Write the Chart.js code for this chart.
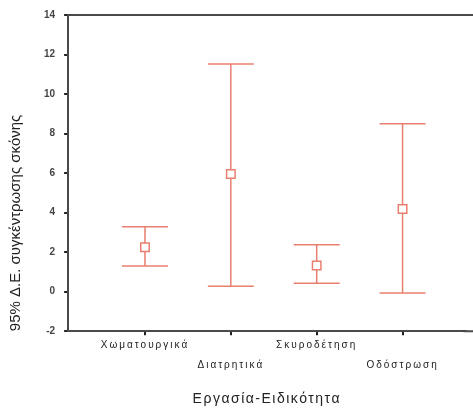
<!DOCTYPE html>
<html>
<head>
<meta charset="utf-8">
<script src="https://cdn.jsdelivr.net/npm/chart.js@4.4.1/dist/chart.umd.min.js"></script>
<style>
  html, body { margin: 0; padding: 0; background: #fff; }
  #wrap { width: 473px; height: 411px; }
</style>
</head>
<body>
<div id="wrap"><canvas id="graph"></canvas></div>
<script>
// values
const categories = ["Χωματουργικά", "Διατρητικά", "Σκυροδέτηση", "Οδόστρωση"];
const means = [2.25, 5.95, 1.33, 4.18];
const lower = [1.3, 0.27, 0.42, -0.07];
const upper = [3.28, 11.52, 2.38, 8.5];
const yTicks = [-2, 0, 2, 4, 6, 8, 10, 12, 14];

const red = "#e9806f";
const axisColor = "#4a4a4a";

// draws the CI whiskers + top frame line
const errorBars = {
  id: "errorBars",
  afterDatasetsDraw(chart) {
    const { ctx, scales: { x, y }, chartArea } = chart;
    ctx.save();
    ctx.strokeStyle = red;
    ctx.lineWidth = 1.5;
    const half = 23;
    categories.forEach((c, i) => {
      const px = x.getPixelForValue(i + 1);
      const top = y.getPixelForValue(upper[i]);
      const bot = y.getPixelForValue(lower[i]);
      const m = y.getPixelForValue(means[i]);
      ctx.beginPath();
      ctx.moveTo(px, top); ctx.lineTo(px, m - 4);
      ctx.moveTo(px, m + 4); ctx.lineTo(px, bot);
      ctx.moveTo(px - half, top); ctx.lineTo(px + half, top);
      ctx.moveTo(px - half, bot); ctx.lineTo(px + half, bot);
      ctx.stroke();
    });
    // frame: top line and x axis run to the canvas edge
    ctx.strokeStyle = axisColor;
    ctx.lineWidth = 2;
    ctx.beginPath();
    ctx.moveTo(chartArea.left, chartArea.top);
    ctx.lineTo(chart.width, chartArea.top);
    ctx.moveTo(chartArea.right - 2, chartArea.bottom);
    ctx.lineTo(chart.width, chartArea.bottom);
    ctx.stroke();
    ctx.restore();
  }
};

// wide letter spacing on the x axis text
const spacedX = {
  id: "spacedX",
  afterUpdate(chart) {
    const s = chart.scales.x;
    if (s._spaced) return;
    const wrap = (name, sp) => {
      const orig = s[name].bind(s);
      s[name] = function (a) {
        const prev = this.ctx.letterSpacing;
        this.ctx.letterSpacing = sp;
        orig(a);
        this.ctx.letterSpacing = prev;
      };
    };
    wrap("drawLabels", "2px");
    wrap("drawTitle", "1.5px");
    s._spaced = true;
  }
};

new Chart(document.getElementById("graph"), {
  type: "scatter",
  data: {
    datasets: [{
      data: means.map((m, i) => ({ x: i + 1, y: m })),
      pointStyle: "rect",
      pointRadius: 6,
      pointHoverRadius: 6,
      pointBackgroundColor: "#fff",
      pointBorderColor: red,
      pointBorderWidth: 1.5
    }]
  },
  options: {
    responsive: true,
    maintainAspectRatio: false,
    animation: false,
    layout: { padding: { top: 15, right: 0, bottom: 3, left: 7 } },
    plugins: { legend: { display: false }, tooltip: { enabled: false } },
    scales: {
      x: {
        type: "linear",
        min: 0.105,
        max: 4.733,
        afterBuildTicks: s => { s.ticks = categories.map((c, i) => ({ value: i + 1 })); },
        grid: { drawOnChartArea: false, tickLength: 4, color: "#222", lineWidth: 2 },
        border: { color: axisColor, width: 2 },
        ticks: {
          autoSkip: false,
          maxRotation: 0,
          padding: 0,
          color: "#222",
          font: { family: "Arial, 'Liberation Sans'", size: 10, lineHeight: 2 },
          callback: (v, i) => i % 2 === 0 ? categories[v - 1] : ["", categories[v - 1]]
        },
        title: {
          display: true,
          text: "Εργασία-Ειδικότητα",
          color: "#222",
          font: { family: "Arial, 'Liberation Sans'", size: 14 },
          padding: { top: 16, bottom: 0 }
        }
      },
      y: {
        min: -2,
        max: 14,
        afterBuildTicks: s => { s.ticks = yTicks.map(v => ({ value: v })); },
        grid: { drawOnChartArea: false, tickLength: 4, color: "#222", lineWidth: 2 },
        border: { color: axisColor, width: 2 },
        ticks: {
          padding: 9,
          color: "#444",
          font: { family: "Arial, 'Liberation Sans'", size: 10, weight: "bold" }
        },
        title: {
          display: true,
          align: "start",
          text: "95% Δ.Ε. συγκέντρωσης σκόνης",
          color: "#222",
          font: { family: "Arial, 'Liberation Sans'", size: 15 },
          padding: { top: 0, bottom: 10 }
        }
      }
    }
  },
  plugins: [errorBars, spacedX]
});
</script>
</body>
</html>
